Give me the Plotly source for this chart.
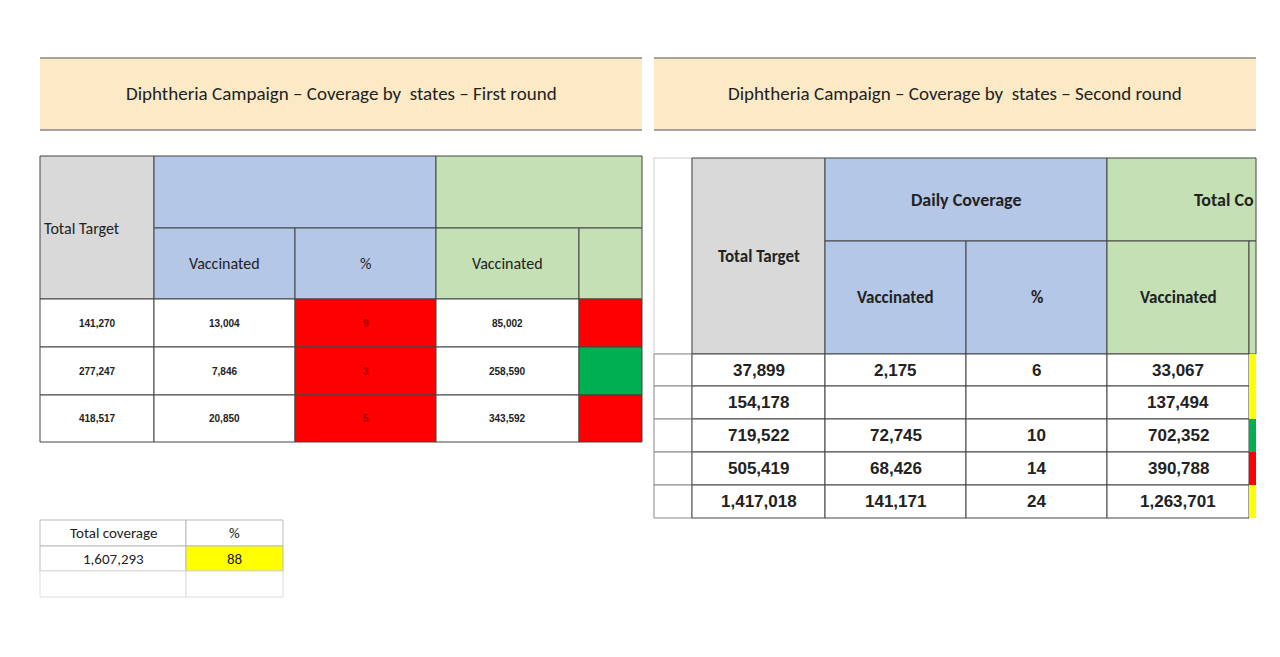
import plotly.graph_objects as go

# --- data ---
title_left = "Diphtheria Campaign – Coverage by  states – First round"
title_right = "Diphtheria Campaign – Coverage by  states – Second round"

r1_target = ["141,270", "277,247", "418,517"]
r1_daily_vacc = ["13,004", "7,846", "20,850"]
r1_daily_pct = ["9", "3", "5"]
r1_total_vacc = ["85,002", "258,590", "343,592"]
r1_total_color = ["#ff0000", "#00b050", "#ff0000"]

r2_target = ["37,899", "154,178", "719,522", "505,419", "1,417,018"]
r2_daily_vacc = ["2,175", "", "72,745", "68,426", "141,171"]
r2_daily_pct = ["6", "", "10", "14", "24"]
r2_total_vacc = ["33,067", "137,494", "702,352", "390,788", "1,263,701"]
r2_total_color = ["#ffff00", "#ffff00", "#00b050", "#ff0000", "#ffff00"]

summary_labels = ["Total coverage", "%"]
summary_values = ["1,607,293", "88"]

GRAY, BLUE, GREEN, PEACH = "#d9d9d9", "#b4c7e7", "#c5e0b4", "#fce9c6"
FONT = "Calibri, Carlito, Lato, sans-serif"
NUMFONT = "Arial, Liberation Sans, sans-serif"

shapes, notes = [], []


def cell(x0, x1, y0, y1, fill="white", text="", size=12, bold=False,
         color="#222", line="#444", font=FONT):
    shapes.append(dict(type="rect", xref="x", yref="y", x0=x0, x1=x1, y0=y0, y1=y1,
                       fillcolor=fill, line=dict(color=line, width=1), layer="below"))
    if text:
        t = f"<b>{text}</b>" if bold else text
        notes.append(dict(x=(x0 + x1) / 2, y=(y0 + y1) / 2, text=t, showarrow=False,
                          xref="x", yref="y", font=dict(size=size, color=color, family=font)))


# title bands
for x0, x1, t in [(32, 634, title_left), (646, 1248, title_right)]:
    shapes.append(dict(type="rect", xref="x", yref="y", x0=x0, x1=x1, y0=50, y1=122,
                       fillcolor=PEACH, line=dict(width=0), layer="below"))
    for yy in (50, 122):
        shapes.append(dict(type="line", xref="x", yref="y", x0=x0, x1=x1, y0=yy, y1=yy,
                           line=dict(color="#888", width=1.5)))
    notes.append(dict(x=(x0 + x1) / 2, y=85, text=t, showarrow=False, xref="x", yref="y",
                      font=dict(size=19, color="#222", family=FONT)))

# ---- first round table ----
cx = [32, 146, 287, 428, 571, 634]
cell(32, 146, 148, 291, GRAY, "Total Target", 16)
notes[-1].update(x=34, xanchor="left", y=220)
cell(146, 428, 148, 220, BLUE)
cell(428, 634, 148, 220, GREEN)
cell(146, 287, 220, 291, BLUE, "Vaccinated", 16)
cell(287, 428, 220, 291, BLUE, "%", 16)
cell(428, 571, 220, 291, GREEN, "Vaccinated", 16)
cell(571, 634, 220, 291, GREEN)
ry = [291, 339, 387, 434]
for i in range(len(r1_target)):
    y0, y1 = ry[i], ry[i + 1]
    cell(32, 146, y0, y1, "white", r1_target[i], 10, True, font=NUMFONT)
    cell(146, 287, y0, y1, "white", r1_daily_vacc[i], 10, True, font=NUMFONT)
    cell(287, 428, y0, y1, "#ff0000", r1_daily_pct[i], 10, True, "#a00000", font=NUMFONT)
    cell(428, 571, y0, y1, "white", r1_total_vacc[i], 10, True, font=NUMFONT)
    cell(571, 634, y0, y1, r1_total_color[i])

# summary
cell(32, 178, 512, 538, "white", summary_labels[0], 15, line="#bbb")
cell(178, 275, 512, 538, "white", summary_labels[1], 15, line="#bbb")
cell(32, 178, 538, 563, "white", summary_values[0], 15, line="#bbb")
cell(178, 275, 538, 563, "#ffff00", summary_values[1], 15, line="#bbb")
cell(32, 178, 563, 589, "white", line="#ddd")
cell(178, 275, 563, 589, "white", line="#ddd")

# ---- second round table ----
cell(646, 684, 150, 346, "white", line="#ccc")
cell(684, 817, 150, 346, GRAY, "Total Target", 17, True)
notes[-1].update(y=248)
cell(817, 1099, 150, 233, BLUE, "Daily Coverage", 18, True)
cell(1099, 1248, 150, 233, GREEN, "Total Co", 18, True)
notes[-1].update(x=1248, xanchor="right")
cell(817, 958, 233, 346, BLUE, "Vaccinated", 17, True)
cell(958, 1099, 233, 346, BLUE, "%", 17, True)
cell(1099, 1241, 233, 346, GREEN, "Vaccinated", 17, True)
cell(1241, 1248, 233, 346, GREEN)
ry2 = [346, 378, 411, 444, 477, 510]
for i in range(len(r2_target)):
    y0, y1 = ry2[i], ry2[i + 1]
    cell(646, 684, y0, y1, "white", line="#888")
    cell(684, 817, y0, y1, "white", r2_target[i], 17, True, font=NUMFONT)
    cell(817, 958, y0, y1, "white", r2_daily_vacc[i], 17, True, font=NUMFONT)
    cell(958, 1099, y0, y1, "white", r2_daily_pct[i], 17, True, font=NUMFONT)
    cell(1099, 1241, y0, y1, "white", r2_total_vacc[i], 17, True, font=NUMFONT)
    cell(1241, 1248, y0, y1, r2_total_color[i], line="rgba(0,0,0,0)")

fig = go.Figure()
fig.update_layout(
    width=1280, height=657, margin=dict(l=0, r=0, t=0, b=0),
    paper_bgcolor="white", plot_bgcolor="white", showlegend=False,
    xaxis=dict(range=[0, 1280], visible=False, fixedrange=True),
    yaxis=dict(range=[657, 0], visible=False, fixedrange=True),
    shapes=shapes, annotations=notes,
)
fig.write_html("out.html")
